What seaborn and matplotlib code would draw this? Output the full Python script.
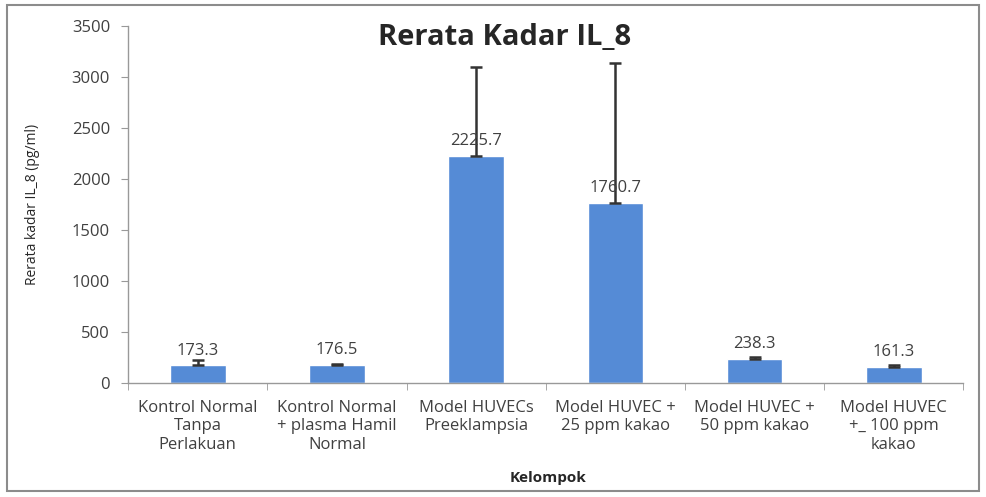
import pandas as pd
import seaborn as sns
import matplotlib.pyplot as plt
from matplotlib.patches import Rectangle

kelompok = ["Kontrol Normal\nTanpa\nPerlakuan",
            "Kontrol Normal\n+ plasma Hamil\nNormal",
            "Model HUVECs\nPreeklampsia",
            "Model HUVEC +\n25 ppm kakao",
            "Model HUVEC +\n50 ppm kakao",
            "Model HUVEC\n+_ 100 ppm\nkakao"]
rerata = [173.3, 176.5, 2225.7, 1760.7, 238.3, 161.3]
sd = [50, 12, 867, 1377, 15, 12]

df = pd.DataFrame({"Kelompok": kelompok, "Rerata": rerata, "SD": sd})

sns.set_style("white")
plt.rcParams['font.family'] = ['Open Sans', 'DejaVu Sans']

fig = plt.figure(figsize=(9.86, 4.97), dpi=100)
ax = fig.add_axes([0.130, 0.229, 0.847, 0.719])

sns.barplot(data=df, x="Kelompok", y="Rerata", color="#558BD6",
            saturation=1, width=0.4, errorbar=None, ax=ax)
ax.errorbar(range(len(df)), df["Rerata"], yerr=[[0] * len(df), df["SD"]],
            fmt="none", ecolor="#333333", elinewidth=1.8, capsize=4, capthick=1.8)

for i, v in enumerate(df["Rerata"]):
    ax.annotate(f"{v:.1f}", (i, v), xytext=(0, 5), textcoords="offset points",
                ha="center", va="bottom", fontsize=12, color="#404040")

ax.set_ylim(0, 3500)
ax.set_yticks(range(0, 3501, 500))
ax.set_xlim(-0.5, 5.5)
ax.set_xticks(range(len(df)))
ax.set_xticks([i - 0.5 for i in range(len(df) + 1)], minor=True)
ax.tick_params(axis="x", which="major", length=0, pad=12, labelsize=12, labelcolor="#404040")
ax.tick_params(axis="x", which="minor", length=5, color="#999999", direction="out")
ax.tick_params(axis="y", length=5, color="#999999", direction="out", labelsize=12,
               labelcolor="#404040", pad=8)
ax.xaxis.set_ticks_position("bottom")
ax.yaxis.set_ticks_position("left")

for s in ["top", "right"]:
    ax.spines[s].set_visible(False)
for s in ["left", "bottom"]:
    ax.spines[s].set_color("#999999")
    ax.spines[s].set_linewidth(1)

ax.set_xlabel("Kelompok", fontsize=11, fontweight="bold")
ax.set_ylabel("Rerata kadar IL_8 (pg/ml)", fontsize=10)
ax.xaxis.set_label_coords(0.503, -0.245)
ax.yaxis.set_label_coords(-0.105, 0.5)
fig.text(0.512, 0.925, "Rerata Kadar IL_8", ha="center", va="center",
         fontsize=21, fontweight="bold")

fig.patches.append(Rectangle((0.007, 0.012), 0.986, 0.978, transform=fig.transFigure,
                             fill=False, edgecolor="#8c8c8c", linewidth=1.5))

fig.savefig("out.png", dpi=100)
